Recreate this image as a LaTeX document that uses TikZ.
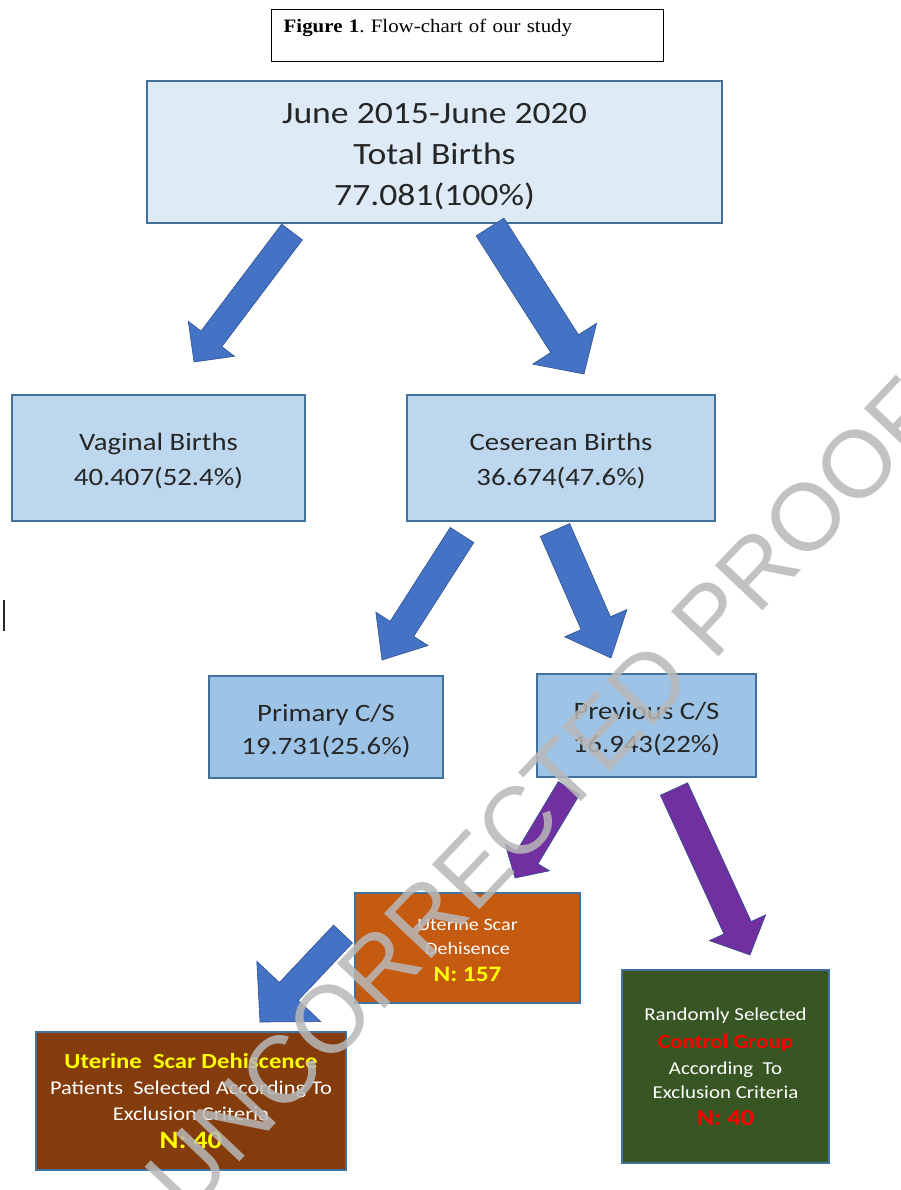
\documentclass[tikz,border=0pt]{standalone}
\usepackage{fontspec}
\setmainfont{Carlito}
\newfontfamily\calib[FakeStretch=1.15]{Carlito}
\newfontfamily\titlefont[FakeStretch=1.1]{Liberation Serif}
\newfontfamily\wmfont{Liberation Sans}
\usetikzlibrary{calc}
\frenchspacing
\definecolor{boxedge}{HTML}{41719C}
\definecolor{fillA}{HTML}{DEEBF7}
\definecolor{fillB}{HTML}{BDD7EE}
\definecolor{fillC}{HTML}{9DC3E6}
\definecolor{arrowblue}{HTML}{4472C4}
\definecolor{arrowedge}{HTML}{2F528F}
\definecolor{arrowpurple}{HTML}{7030A0}
\definecolor{orangebox}{HTML}{C55A11}
\definecolor{brownbox}{HTML}{843C0C}
\definecolor{greenbox}{HTML}{375623}
\definecolor{darktext}{HTML}{262626}
\definecolor{yel}{HTML}{FFFF00}
\definecolor{redtxt}{HTML}{FF0000}
\definecolor{wmgray}{HTML}{B8B8B8}
\tikzset{
  box/.style={draw=boxedge, line width=1.4pt, inner sep=0pt, align=center, text=darktext},
  bigfont/.style={font=\calib\fontsize{31}{41}\selectfont},
  midfont/.style={font=\calib\fontsize{25}{35}\selectfont},
  smallfont/.style={font=\calib\fontsize{25}{33}\selectfont},
  darkbox/.style={draw=boxedge, line width=1.4pt, inner sep=0pt, align=center, text=white},
  bluearrow/.style={fill=arrowblue, draw=arrowedge, line width=0.6pt},
  purplearrow/.style={fill=arrowpurple, draw=arrowedge, line width=0.6pt},
}
% #1 style, #2 tail coordinate, #3 tip coordinate, #4 half shaft, #5 half head, #6 head length
\newcommand\blockarrow[6]{%
  \coordinate (#2-neck) at ($(#3)!#6pt!(#2)$);
  \filldraw[#1] ($(#2)!#4pt!90:(#3)$) -- ($(#2-neck)!#4pt!90:(#3)$) -- ($(#2-neck)!#5pt!90:(#3)$) -- (#3)
    -- ($(#2-neck)!#5pt!-90:(#3)$) -- ($(#2-neck)!#4pt!-90:(#3)$) -- ($(#2)!#4pt!-90:(#3)$) -- cycle;
}
\begin{document}
\begin{tikzpicture}[x=1pt,y=-1pt]
\path[use as bounding box] (0,0) rectangle (900,1190);
\fill[white] (0,0) rectangle (900,1190);

% title
\node[draw=black, line width=1.4pt, anchor=north west, inner xsep=12pt, inner ysep=0pt,
      text width=368pt, align=left, text height=23pt, text depth=29pt,
      font=\titlefont\fontsize{19}{22}\selectfont] (title) at (271,9)
      {\textbf{Figure 1}. Flow-chart of our study};

% boxes
\node[box, bigfont, fill=fillA, minimum width=575pt, minimum height=142pt] (total) at (434.5,152)
  {\rule{0pt}{29pt}June 2015-June 2020\\Total Births\\77.081(100\%)};
\node[box, midfont, fill=fillB, minimum width=293pt, minimum height=126pt] (vaginal) at (158.5,458)
  {\rule{0pt}{23pt}Vaginal Births\\40.407(52.4\%)};
\node[box, midfont, fill=fillB, minimum width=308pt, minimum height=126pt] (cesarean) at (561,458)
  {\rule{0pt}{23pt}Ceserean Births\\36.674(47.6\%)};
\node[box, smallfont, fill=fillC, minimum width=234pt, minimum height=102pt] (primary) at (326,727)
  {\rule{0pt}{25pt}Primary C/S\\19.731(25.6\%)};
\node[box, smallfont, fill=fillC, minimum width=219pt, minimum height=103pt] (previous) at (646.5,725.5)
  {\rule{0pt}{25pt}Previous C/S\\16.943(22\%)};
\node[darkbox, fill=orangebox, minimum width=225pt, minimum height=110pt,
      font=\calib\fontsize{17.5}{24}\selectfont] (scar) at (467.5,948)
  {\rule{0pt}{16pt}Uterine Scar\\Dehisence\\[3pt]{\bfseries\color{yel}\fontsize{22}{24}\selectfont N: 157}};
\node[darkbox, fill=brownbox, minimum width=310pt, minimum height=138pt,
      font=\calib\fontsize{19.5}{26}\selectfont] (patients) at (191,1101)
  {{\bfseries\color{yel}\fontsize{21.5}{26}\selectfont Uterine\ \ Scar Dehiscence}\\
   Patients\ \ Selected According To\\Exclusion Criteria\\[2pt]
   {\bfseries\color{yel}\fontsize{25}{26}\selectfont N: 40}};
\node[darkbox, fill=greenbox, minimum width=207pt, minimum height=193pt,
      font=\calib\fontsize{18.2}{26}\selectfont] (control) at (725.5,1066.5)
  {Randomly Selected\\[2pt]{\bfseries\color{redtxt}\fontsize{20}{26}\selectfont Control Group}\\
   According\ \ To\\[-2pt]Exclusion Criteria\\[1pt]{\bfseries\color{redtxt}\fontsize{23}{26}\selectfont N: 40}};

% arrow end points
\coordinate (a1t) at (292,232);  \coordinate (a1h) at (194,362);
\coordinate (a2t) at (490,227);  \coordinate (a2h) at (584,374);
\coordinate (a3t) at (462,535);  \coordinate (a3h) at (382,660);
\coordinate (a4t) at (555,530);  \coordinate (a4h) at (611,658);
\coordinate (p1t) at (569,788);  \coordinate (p1h) at (515,878);
\coordinate (p2t) at (674,789);  \coordinate (p2h) at (750,955);
\coordinate (a5t) at (343,934);  \coordinate (a5h) at (260,1022);

\blockarrow{bluearrow}{a1t}{a1h}{13}{29}{29}
\blockarrow{bluearrow}{a2t}{a2h}{16.5}{38}{36}
\blockarrow{bluearrow}{a3t}{a3h}{14}{31}{37}
\blockarrow{bluearrow}{a4t}{a4h}{16}{34}{38}
\blockarrow{purplearrow}{p1t}{p1h}{12.5}{26}{24}
\blockarrow{purplearrow}{p2t}{p2h}{15}{31}{30}
\blockarrow{bluearrow}{a5t}{a5h}{13}{44}{42}

% stray text cursor bar
\draw[line width=2.5pt, black!85] (4,600) -- (4,631);

% watermark
\node[rotate=46.5, text=wmgray, opacity=0.85, font=\wmfont\fontsize{95}{100}\selectfont] (wm) at (543,795)
  {UNCORRECTED PROOF};
\end{tikzpicture}
\end{document}
